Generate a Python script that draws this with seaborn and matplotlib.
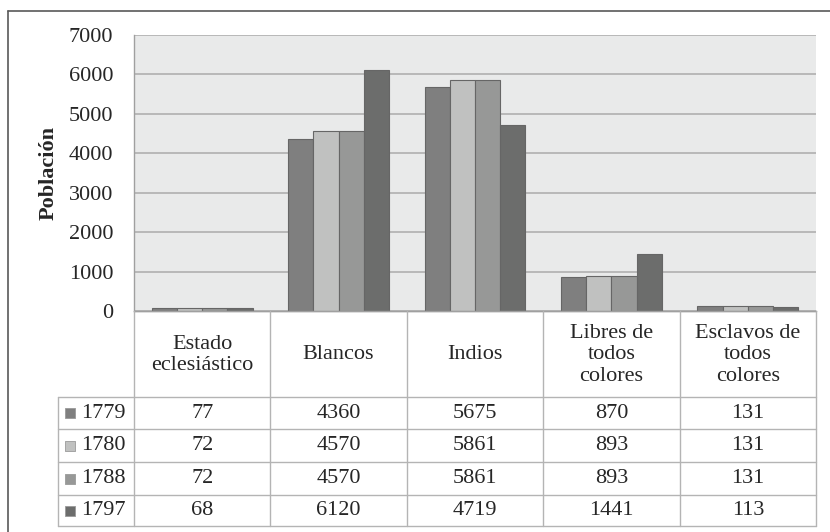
import numpy as np
import pandas as pd
import matplotlib
matplotlib.use("Agg")
import matplotlib.pyplot as plt
import seaborn as sns

# --- data ---
categorias = ["Estado\neclesiástico", "Blancos", "Indios",
              "Libres de\ntodos\ncolores", "Esclavos de\ntodos\ncolores"]
anios = ["1779", "1780", "1788", "1797"]
v1779 = [77, 4360, 5675, 870, 131]
v1780 = [72, 4570, 5861, 893, 131]
v1788 = [72, 4570, 5861, 893, 131]
v1797 = [68, 6120, 4719, 1441, 113]
colores = ["#7f7f7f", "#c0c1c0", "#979897", "#6c6d6c"]

series = [v1779, v1780, v1788, v1797]
df = pd.DataFrame({
    "categoria": np.tile(categorias, len(anios)),
    "anio": np.repeat(anios, len(categorias)),
    "poblacion": np.concatenate(series),
})

# --- figure ---
sns.set_theme(style="white")
plt.rcParams["font.family"] = ["Liberation Serif", "DejaVu Serif"]
FS = 16

W, H = 830, 532
fig = plt.figure(figsize=(W / 100, H / 100), dpi=100)


def fx(px):
    return px / W


def fy(py):
    return 1 - py / H


x0, x1, y_top, y_bot = 134, 816, 35, 311
ax = fig.add_axes([fx(x0), fy(y_bot), fx(x1 - x0), (y_bot - y_top) / H])
ax.set_facecolor("#e9eaea")

sns.barplot(data=df, x="categoria", y="poblacion", hue="anio",
            palette=colores, width=0.74, gap=0, edgecolor="#666666",
            linewidth=0.8, legend=False, ax=ax, zorder=3)

ax.set_ylim(0, 7000)
ax.set_xlim(-0.5, len(categorias) - 0.5)
ax.set_yticks(range(0, 7001, 1000))
ax.yaxis.grid(True, color="#ababab", linewidth=1.1, zorder=0)
ax.set_axisbelow(True)
ax.set_xticks([])
ax.set_xlabel("")
ax.set_ylabel("")
ax.tick_params(axis="y", length=0, pad=15, labelsize=FS)
for s in ["left", "bottom"]:
    ax.spines[s].set_color("#a0a0a0")
    ax.spines[s].set_linewidth(1)
for s in ["top", "right"]:
    ax.spines[s].set_visible(False)

fig.text(fx(49), fy(173), "Población", rotation=90, ha="center", va="center",
         fontsize=FS, fontweight="bold")

# --- data table below ---
leg_w = (x0 - 58) / ((x1 - x0) / len(categorias))
t_top, t_bot = 311, 526
tab = fig.add_axes([fx(58), fy(t_bot), fx(x1 - 58), (t_bot - t_top) / H])
tab.set_xlim(-0.5 - leg_w, len(categorias) - 0.5)
tab.set_ylim(t_bot, t_top)
tab.axis("off")

row_y = [311, 397, 429, 462, 495, 526]
lc = "#b4b4b4"
# horizontal lines
tab.plot([-0.5, len(categorias) - 0.5], [row_y[0]] * 2, color="#a0a0a0", lw=1, clip_on=False)
for yy in row_y[1:]:
    tab.plot([-0.5 - leg_w, len(categorias) - 0.5], [yy, yy], color=lc, lw=1, clip_on=False)
# vertical lines
for i in range(len(categorias) + 1):
    tab.plot([i - 0.5, i - 0.5], [row_y[0], row_y[-1]], color=lc, lw=1, clip_on=False)
tab.plot([-0.5 - leg_w] * 2, [row_y[1], row_y[-1]], color=lc, lw=1, clip_on=False)

# header text
for i, c in enumerate(categorias):
    tab.text(i, (row_y[0] + row_y[1]) / 2 + 1, c, ha="center", va="center",
             fontsize=FS, linespacing=1.18)

# rows
px_unit = (x1 - x0) / len(categorias)
for r, (anio, vals, col) in enumerate(zip(anios, series, colores)):
    yc = (row_y[r + 1] + row_y[r + 2]) / 2
    tab.scatter([-0.5 - leg_w + 12 / px_unit], [yc], marker="s", s=60, color=col,
                edgecolor="#9a9a9a", linewidth=0.6, clip_on=False)
    tab.text(-0.5 - leg_w + 23 / px_unit, yc, anio, ha="left", va="center", fontsize=FS)
    for i, v in enumerate(vals):
        tab.text(i, yc, str(v), ha="center", va="center", fontsize=FS)

# outer frame (cropped at right/bottom)
fig.add_artist(plt.Line2D([fx(8), fx(8)], [fy(11), 0], color="#595959", lw=1.2))
fig.add_artist(plt.Line2D([fx(8), 1], [fy(11), fy(11)], color="#595959", lw=1.2))

fig.savefig("out.png", dpi=100)
